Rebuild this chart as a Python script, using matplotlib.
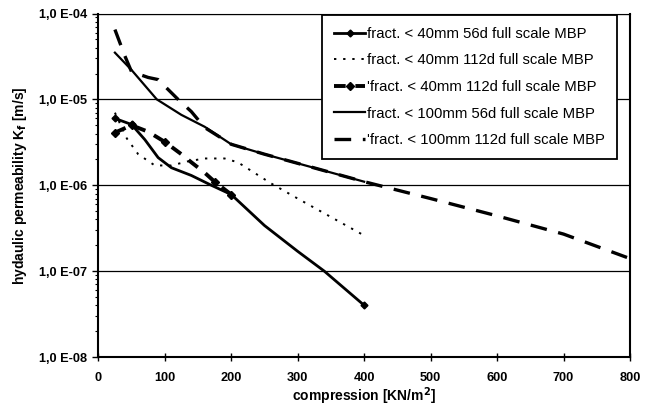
import matplotlib
matplotlib.use("Agg")
import matplotlib.pyplot as plt
import numpy as np
from matplotlib.ticker import LogLocator, FixedLocator, NullFormatter

plt.rcParams['font.family'] = ['Liberation Sans', 'DejaVu Sans']

# fract. < 40mm 56d full scale MBP
x_40_56 = [25, 50, 70, 90, 110, 140, 170, 200, 250, 300, 340, 400]
k_40_56 = [6.0e-6, 5.1e-6, 3.4e-6, 2.1e-6, 1.6e-6, 1.3e-6, 1.0e-6, 7.8e-7, 3.4e-7, 1.7e-7, 1.0e-7, 4.0e-8]

# fract. < 40mm 112d full scale MBP (dotted)
x_40_112a = [25, 43, 60, 85, 110, 135, 160, 190, 210, 260, 300, 400]
k_40_112a = [7.0e-6, 3.5e-6, 2.3e-6, 1.7e-6, 1.7e-6, 1.9e-6, 2.05e-6, 2.05e-6, 1.85e-6, 1.05e-6, 7.0e-7, 2.6e-7]

# 'fract. < 40mm 112d full scale MBP (bold dash)
x_40_112b = [25, 50, 75, 100, 125, 140, 160, 175, 200]
k_40_112b = [4.1e-6, 5.0e-6, 4.2e-6, 3.2e-6, 2.3e-6, 1.85e-6, 1.4e-6, 1.1e-6, 7.8e-7]

# fract. < 100mm 56d full scale MBP
x_100_56 = [25, 50, 88, 125, 160, 200, 250, 300, 400]
k_100_56 = [3.5e-5, 2.2e-5, 1.0e-5, 6.6e-6, 4.8e-6, 3.0e-6, 2.3e-6, 1.8e-6, 1.1e-6]

# 'fract. < 100mm 112d full scale MBP
x_100_112 = [25, 40, 50, 75, 90, 120, 140, 160, 200, 250, 300, 400, 500, 600, 700, 800]
k_100_112 = [6.5e-5, 3.2e-5, 2.1e-5, 1.8e-5, 1.7e-5, 1.0e-5, 7.2e-6, 4.7e-6, 3.0e-6, 2.3e-6,
             1.8e-6, 1.1e-6, 7.0e-7, 4.4e-7, 2.7e-7, 1.4e-7]

labels = ["fract. < 40mm 56d full scale MBP",
          "fract. < 40mm 112d full scale MBP",
          "'fract. < 40mm 112d full scale MBP",
          "fract. < 100mm 56d full scale MBP",
          "'fract. < 100mm 112d full scale MBP"]

y_ticks = [1e-4, 1e-5, 1e-6, 1e-7, 1e-8]
y_ticklabels = ["1,0 E-04", "1,0 E-05", "1,0 E-06", "1,0 E-07", "1,0 E-08"]
x_ticks = [0, 100, 200, 300, 400, 500, 600, 700, 800]

fig = plt.figure(figsize=(6.53, 4.07), dpi=100)
ax = fig.add_axes([98.3 / 653, 1 - 357 / 407, (630 - 98.3) / 653, (357 - 13.5) / 407])

ax.plot(x_40_56, k_40_56, color='black', lw=2.0, marker='D', ms=3.5,
        markevery=[0, 1, 7, 11], label=labels[0])
ax.plot(x_40_112a, k_40_112a, color='black', lw=1.4, linestyle=(0, (1.2, 3.5)),
        label=labels[1])
ax.plot(x_40_112b, k_40_112b, color='black', lw=2.8, linestyle=(0, (3, 2.5)),
        marker='D', ms=4, markevery=[0, 1, 3, 7, 8], label=labels[2])
ax.plot(x_100_56, k_100_56, color='black', lw=1.6, label=labels[3])
ax.plot(x_100_112, k_100_112, color='black', lw=2.4, linestyle=(0, (5, 3.5)),
        label=labels[4])

ax.set_yscale('log')
ax.set_ylim(1e-8, 1e-4)
ax.set_xlim(0, 800)

ax.yaxis.set_major_locator(FixedLocator(y_ticks))
ax.set_yticklabels(y_ticklabels)
ax.yaxis.set_minor_locator(LogLocator(base=10, subs=np.arange(2, 10)))
ax.yaxis.set_minor_formatter(NullFormatter())
ax.set_xticks(x_ticks)

ax.tick_params(axis='x', direction='inout', length=6, width=1, labelsize=9.2, pad=8)
ax.tick_params(axis='y', which='major', direction='out', length=4, width=1, labelsize=9.2, pad=4)
ax.tick_params(axis='y', which='minor', direction='out', length=2, width=0.8)
for lbl in ax.get_xticklabels() + ax.get_yticklabels():
    lbl.set_fontweight('bold')

ax.grid(True, axis='y', which='major', color='black', lw=0.9)
ax.set_axisbelow(True)

for side in ['left', 'bottom', 'right']:
    ax.spines[side].set_linewidth(1.5)
ax.spines['top'].set_linewidth(0.8)

ax.set_xlabel("compression [KN/m$^\\mathbf{2}$]", fontsize=10, fontweight='bold', labelpad=1)
ax.set_ylabel("hydaulic permeability K$_\\mathbf{f}$ [m/s]", fontsize=10, fontweight='bold', labelpad=7)

leg = ax.legend(loc='upper right', bbox_to_anchor=(0.976, 0.996), fontsize=10.7,
                frameon=True, fancybox=False, edgecolor='black', framealpha=1,
                handlelength=2.1, handletextpad=0.15, labelspacing=0.85,
                borderpad=0.8, borderaxespad=0)
leg.get_frame().set_linewidth(1.3)

fig.savefig("out.png", dpi=100)
